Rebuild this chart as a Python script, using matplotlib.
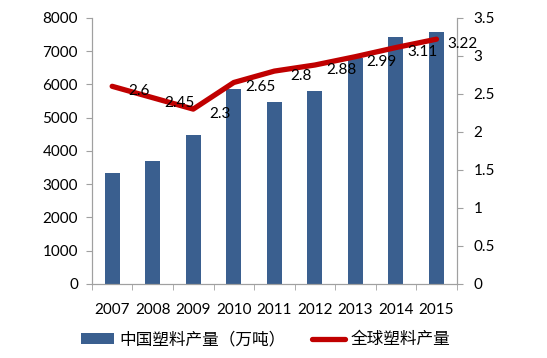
import numpy as np
import matplotlib.pyplot as plt

plt.rcParams['font.family'] = ['Lato', 'Noto Sans CJK SC', 'DejaVu Sans']

# data
years = ['2007', '2008', '2009', '2010', '2011', '2012', '2013', '2014', '2015']
china_output = [3330, 3710, 4490, 5850, 5480, 5810, 6800, 7420, 7590]
world_output = [2.6, 2.45, 2.3, 2.65, 2.8, 2.88, 2.99, 3.11, 3.22]

bar_color = '#3A5F8F'
line_color = '#C00000'
spine_color = '#A0A0A0'

fig = plt.figure(figsize=(5.47, 3.58), dpi=100)
ax = fig.add_axes([0.168, 0.207, 0.667, 0.743])
ax2 = ax.twinx()

x = np.arange(len(years))
ax.bar(x, china_output, width=0.37, color=bar_color, label='中国塑料产量（万吨）')
ax2.plot(x, world_output, color=line_color, lw=3.8, solid_capstyle='round',
         label='全球塑料产量')

for xi, v in zip(x, world_output):
    ax2.annotate(f'{v:g}', (xi, v), xytext=(19, -3.5), textcoords='offset points',
                 ha='center', va='center', fontsize=11, color='black')

ax.set_xlim(-0.5, len(years) - 0.5)
ax.set_ylim(0, 8000)
ax.set_yticks(np.arange(0, 8001, 1000))
ax2.set_ylim(0, 3.5)
ax2.set_yticks([0, 0.5, 1, 1.5, 2, 2.5, 3, 3.5])
ax2.set_yticklabels(['0', '0.5', '1', '1.5', '2', '2.5', '3', '3.5'])

ax.set_xticks(x)
ax.set_xticklabels(years)
ax.set_xticks(np.arange(-0.5, len(years), 1), minor=True)
ax.tick_params(axis='x', which='major', length=0, pad=14, labelsize=11)
ax.tick_params(axis='x', which='minor', length=4, color=spine_color)
ax.tick_params(axis='y', length=4, color=spine_color, labelsize=11, pad=6)
ax2.tick_params(axis='y', length=4, color=spine_color, labelsize=11, pad=8)

for a in (ax, ax2):
    a.spines['top'].set_visible(False)
    for s in ('left', 'right', 'bottom'):
        a.spines[s].set_color(spine_color)

h1, l1 = ax.get_legend_handles_labels()
h2, l2 = ax2.get_legend_handles_labels()
fig.legend(h1 + h2, l1 + l2, loc='lower center', bbox_to_anchor=(0.485, -0.015),
           ncol=2, frameon=False, handlelength=2.0, handleheight=0.6,
           columnspacing=1.6, handletextpad=0.3,
           prop={'family': ['Noto Sans CJK SC', 'DejaVu Sans'], 'size': 12})

fig.savefig('out.png', dpi=100)
